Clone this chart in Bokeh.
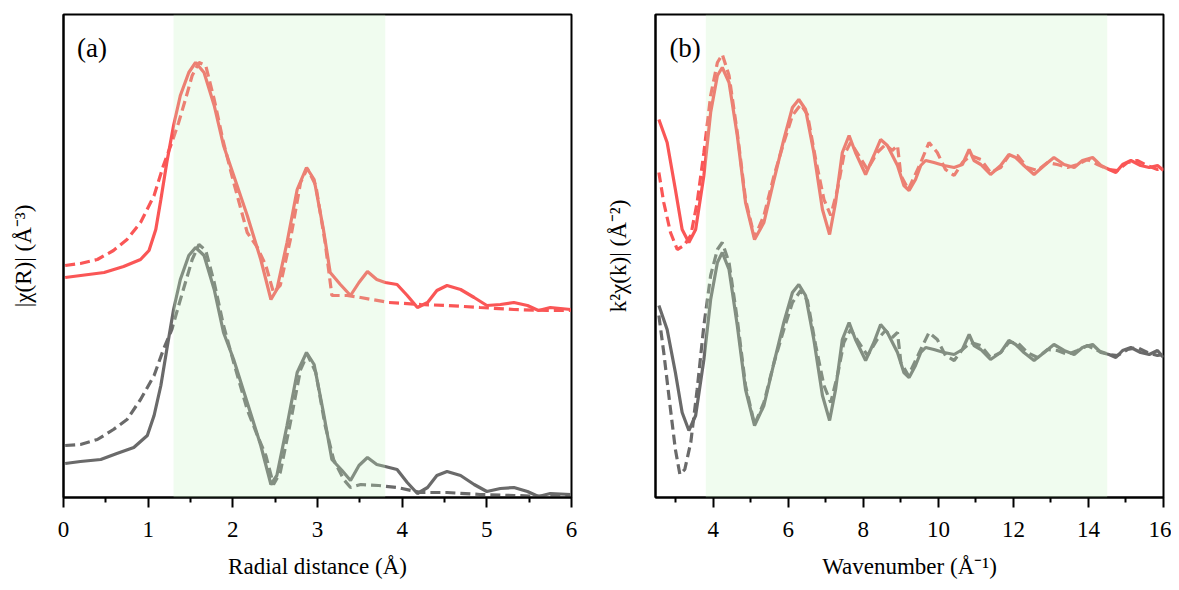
from bokeh.plotting import figure
from bokeh.models import Range1d, FixedTicker, BoxAnnotation, Label
from bokeh.layouts import row
from bokeh.embed import file_html
from bokeh.resources import INLINE

# ---------------- panel (a): |chi(R)| ----------------
r_red_fit = [0.02,0.2,0.40,0.59,0.75,0.91,1.07,1.18,1.28,1.36,1.44,1.52,1.60,1.68,1.78,1.89,2.01,2.17,2.29,2.39,
             2.48,2.56,2.68,2.80,2.88,2.98,3.09,3.17,3.35,3.51,3.84,4.22,4.53,4.92,5.32,5.71,5.99]
a_red_fit = [232,234,238,247,258,275,302,332,355,375,398,422,435,432,398,355,315,265,250,232,
             205,212,258,315,329,312,255,202,202,200,195,193,192,190,188,187,187]
r_red_exp = [0.02,0.48,0.71,0.91,1.01,1.09,1.15,1.22,1.30,1.38,1.48,1.56,1.66,1.78,1.89,2.01,2.17,2.33,2.45,2.52,
             2.64,2.76,2.87,2.96,3.07,3.15,3.27,3.39,3.49,3.59,3.70,3.80,3.94,4.06,4.18,4.30,4.41,4.53,4.69,4.85,
             5.00,5.16,5.32,5.48,5.61,5.75,5.99]
a_red_exp = [220,225,231,238,247,268,298,335,372,402,425,435,425,392,352,322,282,238,198,208,
             255,308,330,318,268,225,213,202,215,226,218,215,213,202,190,195,207,212,208,200,
             192,193,195,192,187,190,188]
r_gray_fit = [0.02,0.2,0.40,0.59,0.75,0.91,1.07,1.18,1.28,1.36,1.44,1.52,1.60,1.68,1.78,1.89,2.01,2.17,2.29,2.39,
              2.48,2.56,2.68,2.80,2.88,2.98,3.09,3.19,3.31,3.39,3.51,3.72,3.94,4.22,4.53,4.92,5.32,5.71,5.99]
a_gray_fit = [52,53,58,68,78,98,122,148,168,192,215,238,253,247,215,172,135,88,62,42,
              13,25,75,128,143,125,72,38,18,10,13,12,10,5,5,3,2,1,1]
r_gray_exp = [0.02,0.2,0.44,0.63,0.83,0.99,1.07,1.15,1.22,1.30,1.38,1.48,1.56,1.66,1.78,1.89,2.01,2.17,2.33,2.45,
              2.52,2.64,2.76,2.87,2.96,3.07,3.17,3.29,3.39,3.49,3.59,3.70,3.80,3.94,4.06,4.18,4.30,4.41,4.53,4.69,
              4.85,5.00,5.16,5.32,5.48,5.61,5.75,5.99]
a_gray_exp = [34,36,38,44,50,62,82,112,148,188,218,242,250,242,208,165,138,95,52,13,
              22,72,125,145,133,85,38,27,17,32,40,33,31,28,15,4,10,22,26,22,
              13,6,9,10,6,1,4,3]

# ---------------- panel (b): k^2 chi(k) ----------------
k_red_exp = [2.55,2.77,2.99,3.17,3.35,3.53,3.75,3.93,4.11,4.24,4.42,4.64,4.86,5.10,5.35,5.62,5.88,6.11,6.28,6.46,
             6.68,6.91,7.10,7.26,7.44,7.62,7.79,8.06,8.28,8.46,8.64,8.91,9.08,9.22,9.39,9.53,9.66,9.88,10.15,10.42,
             10.64,10.82,10.95,11.13,11.39,11.66,11.88,12.06,12.28,12.55,12.82,13.08,13.35,13.62,13.84,14.11,14.33,
             14.55,14.73,14.91,15.13,15.39,15.62,15.84,16.0]
b_red_exp = [378,355,308,268,255,268,322,385,422,430,415,362,295,258,275,318,358,390,398,388,
             345,288,263,295,345,362,345,323,342,358,352,332,312,307,318,332,337,335,332,330,
             333,348,337,333,323,332,343,340,332,323,332,340,333,330,337,340,332,
             328,325,333,337,332,330,332,327]
k_red_fit = [2.55,2.68,2.86,3.04,3.22,3.40,3.57,3.75,3.93,4.11,4.24,4.42,4.64,4.86,5.10,5.35,5.62,5.88,6.11,6.33,
             6.51,6.73,6.95,7.13,7.31,7.48,7.66,7.88,8.11,8.37,8.59,8.77,8.91,9.0,9.2,9.53,9.75,9.97,10.19,10.42,
             10.64,10.86,11.13,11.39,11.66,11.88,12.11,12.37,12.64,12.91,13.17,13.44,13.71,13.97,14.24,14.55,14.77,
             15.04,15.3,15.57,15.84,16.0]
b_red_fit = [325,295,265,248,252,262,295,345,402,435,443,422,365,298,260,282,322,355,382,393,
             383,338,298,282,308,342,355,342,328,345,353,347,352,322,308,335,355,345,328,322,
             335,342,338,325,330,342,342,330,327,335,333,330,333,338,333,328,327,
             335,337,332,328,330]
k_gray_exp = k_red_exp
b_gray_exp = [192,168,125,85,67,82,138,198,235,245,228,172,108,72,92,135,175,205,213,202,
              158,102,77,108,158,175,158,137,155,173,165,145,125,120,132,145,150,148,145,143,
              148,163,152,148,138,145,157,153,145,137,145,153,147,143,150,153,145,
              143,140,147,150,145,143,147,140]
k_gray_fit = [2.55,2.68,2.86,2.99,3.11,3.24,3.40,3.57,3.75,3.93,4.11,4.24,4.42,4.64,4.86,5.10,5.35,5.62,5.88,6.11,
              6.33,6.51,6.73,6.95,7.13,7.31,7.48,7.66,7.88,8.11,8.37,8.59,8.77,8.91,9.0,9.2,9.53,9.75,9.97,10.19,
              10.42,10.64,10.86,11.13,11.39,11.66,11.88,12.11,12.37,12.64,12.91,13.17,13.44,13.71,13.97,14.24,14.55,
              14.77,15.04,15.3,15.57,15.84,16.0]
b_gray_fit = [182,145,88,48,23,28,55,108,172,222,248,255,235,178,112,73,95,135,168,195,
              207,197,152,112,95,122,155,168,155,142,158,167,160,165,135,122,148,165,158,142,
              137,148,155,152,140,145,155,155,145,140,148,147,143,147,152,147,143,
              142,148,150,145,142,143]

window_a = (1.3, 3.8)
window_b = (3.8, 14.5)

RED = "#fa5656"
GRAY = "#6a6a6a"
BAND = "#c8f5c3"
FONT = "Liberation Serif"


def make_panel(xr, majors, minors, xlabel, ylabel, width, left_border, right_border, ystand):
    p = figure(width=width, height=590, x_range=Range1d(*xr), y_range=Range1d(0, 483),
               output_backend="svg", toolbar_location=None,
               min_border_left=left_border, min_border_right=right_border,
               min_border_top=14, min_border_bottom=93)
    p.grid.visible = False
    p.outline_line_color = "black"
    p.outline_line_width = 2
    p.background_fill_color = "white"
    p.border_fill_color = "white"

    xa = p.xaxis[0]
    xa.ticker = FixedTicker(ticks=majors, minor_ticks=minors)
    xa.axis_line_width = 2
    xa.axis_line_color = "black"
    xa.major_tick_line_color = "black"
    xa.minor_tick_line_color = "black"
    xa.major_tick_line_width = 2
    xa.minor_tick_line_width = 2
    xa.major_tick_out = 10
    xa.major_tick_in = 0
    xa.minor_tick_out = 5
    xa.minor_tick_in = 0
    xa.major_label_text_font = FONT
    xa.major_label_text_font_size = "23px"
    xa.major_label_text_color = "black"
    xa.major_label_standoff = 14
    xa.axis_label = xlabel
    xa.axis_label_text_font = FONT
    xa.axis_label_text_font_size = "23px"
    xa.axis_label_text_font_style = "normal"
    xa.axis_label_text_color = "black"
    xa.axis_label_standoff = 14

    ya = p.yaxis[0]
    ya.ticker = FixedTicker(ticks=[])
    ya.axis_line_width = 2
    ya.axis_line_color = "black"
    ya.major_tick_out = 0
    ya.major_tick_in = 0
    ya.minor_tick_out = 0
    ya.minor_tick_in = 0
    ya.major_label_text_font_size = "0px"
    ya.major_label_standoff = 0
    ya.axis_label = ylabel
    ya.axis_label_text_font = FONT
    ya.axis_label_text_font_size = "23px"
    ya.axis_label_text_font_style = "normal"
    ya.axis_label_text_color = "black"
    ya.axis_label_standoff = ystand
    return p


pa = make_panel((0, 6), [0, 1, 2, 3, 4, 5, 6], [0.5, 1.5, 2.5, 3.5, 4.5, 5.5],
                "Radial distance (Å)", "|χ(R)| (Å⁻³)", 591, 63, 20, 28)
pb = make_panel((2.46, 16), [4, 6, 8, 10, 12, 14, 16], [3, 5, 7, 9, 11, 13, 15],
                "Wavenumber (Å⁻¹)", "k²χ(k)| (Å⁻²)", 580, 64, 8, 25)

# panel (a) curves
pa.line(r_red_exp, a_red_exp, line_color=RED, line_width=3.2)
pa.line(r_red_fit, a_red_fit, line_color=RED, line_width=3.2, line_dash="10 5")
pa.line(r_gray_exp, a_gray_exp, line_color=GRAY, line_width=3.2)
pa.line(r_gray_fit, a_gray_fit, line_color=GRAY, line_width=3.2, line_dash="10 5")
pa.add_layout(BoxAnnotation(left=window_a[0], right=window_a[1], fill_color=BAND, fill_alpha=0.27,
                            line_color=None, level="overlay"))
pa.add_layout(Label(x=0.16, y=450, text="(a)", text_font=FONT, text_font_size="27px",
                    text_baseline="middle", text_color="black"))

# panel (b) curves
pb.line(k_red_exp, b_red_exp, line_color=RED, line_width=3.2)
pb.line(k_red_fit, b_red_fit, line_color=RED, line_width=3.2, line_dash="10 5")
pb.line(k_gray_exp, b_gray_exp, line_color=GRAY, line_width=3.2)
pb.line(k_gray_fit, b_gray_fit, line_color=GRAY, line_width=3.2, line_dash="10 5")
pb.add_layout(BoxAnnotation(left=window_b[0], right=window_b[1], fill_color=BAND, fill_alpha=0.27,
                            line_color=None, level="overlay"))
pb.add_layout(Label(x=2.83, y=450, text="(b)", text_font=FONT, text_font_size="27px",
                    text_baseline="middle", text_color="black"))

layout = row(pa, pb)
open("out.html", "w").write(file_html(layout, INLINE))
